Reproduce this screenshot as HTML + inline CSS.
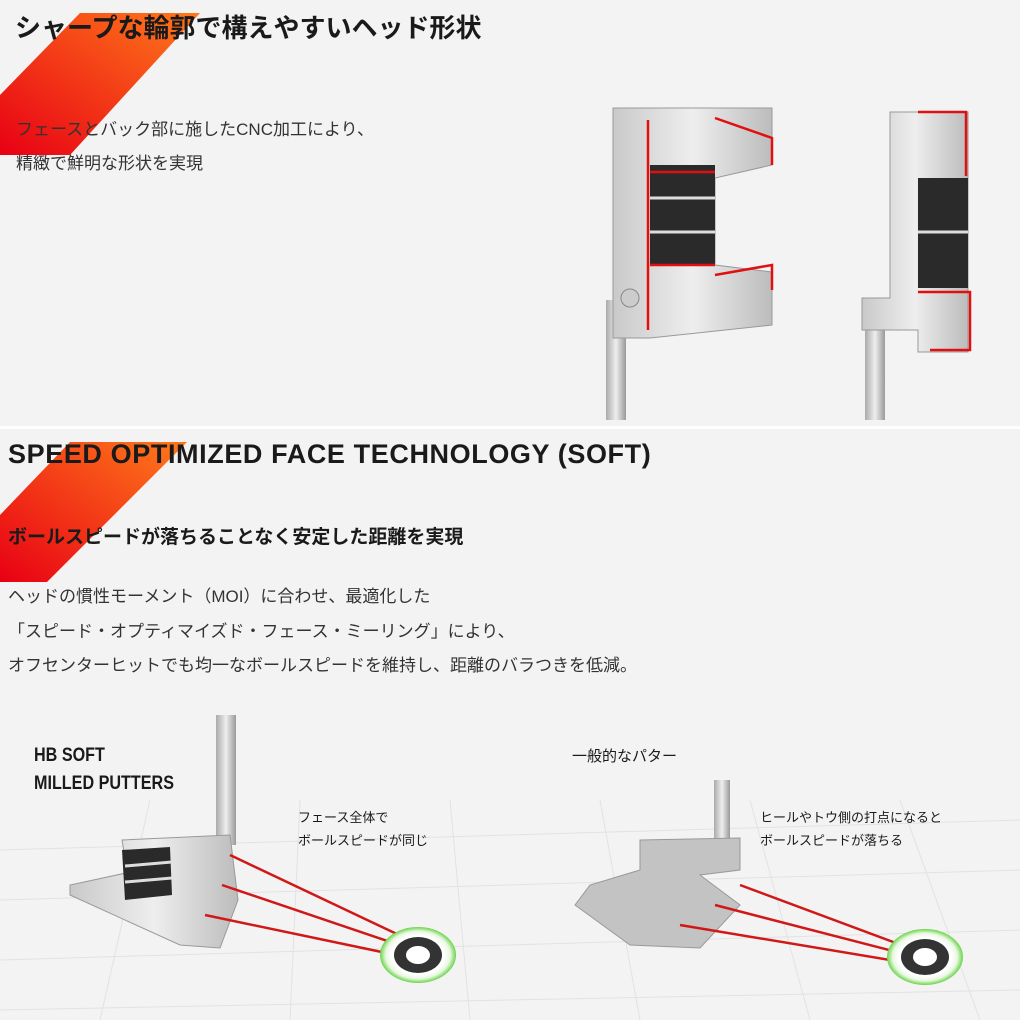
<!DOCTYPE html>
<html><head><meta charset="utf-8"><style>
html,body{margin:0;padding:0}
body{width:1020px;height:1020px;background:#f3f3f3;position:relative;overflow:hidden;font-family:"Liberation Sans","Noto Sans CJK JP",sans-serif;color:#1a1a1a}
.t{position:absolute;white-space:nowrap}
</style></head><body>
<svg width="1020" height="1020" style="position:absolute;left:0;top:0">
<defs>
<linearGradient id="g" x1="1" y1="0" x2="0" y2="1">
<stop offset="0" stop-color="#ff7a1a"/><stop offset="1" stop-color="#e80014"/></linearGradient>
<linearGradient id="m" x1="0" y1="0" x2="1" y2="0">
<stop offset="0" stop-color="#c9c9c9"/><stop offset=".5" stop-color="#eee"/><stop offset="1" stop-color="#bcbcbc"/></linearGradient>
<linearGradient id="sh" x1="0" y1="0" x2="1" y2="0">
<stop offset="0" stop-color="#aaa"/><stop offset=".5" stop-color="#eee"/><stop offset="1" stop-color="#999"/></linearGradient>
<radialGradient id="tg"><stop offset=".7" stop-color="#fff"/><stop offset=".85" stop-color="#e8f8e0"/><stop offset="1" stop-color="#6ad44a"/></radialGradient>
</defs>
<polygon points="80,13 200,13 70,155 0,155 0,95" fill="url(#g)"/>
<rect x="0" y="426" width="1020" height="3" fill="#fff"/>
<polygon points="70,442 187,442 47,582 0,582 0,515" fill="url(#g)"/>

<rect x="606" y="300" width="20" height="120" fill="url(#sh)"/>
<path d="M613,108 H772 V165 L715,178 V265 L772,272 V325 L650,338 H613 Z" fill="url(#m)" stroke="#999"/>
<rect x="650" y="165" width="65" height="100" fill="#2a2a2a"/>
<line x1="650" y1="198" x2="715" y2="198" stroke="#ddd" stroke-width="3"/>
<line x1="650" y1="232" x2="715" y2="232" stroke="#ddd" stroke-width="3"/>
<path d="M648,120 V330 M650,172 H715 M650,265 H715 M715,118 L772,138 V165 M715,275 L772,265 V290" stroke="#e01010" stroke-width="2.5" fill="none"/>
<circle cx="630" cy="298" r="9" fill="#ccc" stroke="#888"/>
<rect x="865" y="320" width="20" height="100" fill="url(#sh)"/>
<path d="M890,112 H968 V352 H918 V330 H862 V298 H890 Z" fill="url(#m)" stroke="#999"/>
<rect x="918" y="178" width="50" height="110" fill="#2a2a2a"/>
<line x1="918" y1="232" x2="968" y2="232" stroke="#ddd" stroke-width="3"/>
<path d="M918,112 H966 V176 M918,292 H970 V350 H930" stroke="#e01010" stroke-width="2.5" fill="none"/>

<g stroke="#e2e2e2" stroke-width="1">
<line x1="0" y1="850" x2="1020" y2="820"/><line x1="0" y1="900" x2="1020" y2="870"/>
<line x1="0" y1="960" x2="1020" y2="930"/><line x1="0" y1="1010" x2="1020" y2="990"/>
<line x1="150" y1="800" x2="100" y2="1020"/><line x1="300" y1="800" x2="290" y2="1020"/>
<line x1="450" y1="800" x2="470" y2="1020"/><line x1="600" y1="800" x2="640" y2="1020"/>
<line x1="750" y1="800" x2="810" y2="1020"/><line x1="900" y1="800" x2="980" y2="1020"/>
</g>
<rect x="216" y="715" width="20" height="130" fill="url(#sh)"/>
<path d="M122,840 L230,835 L238,900 L220,948 L180,945 L70,895 L70,885 L140,870 L125,858 Z" fill="url(#m)" stroke="#999"/>
<path d="M122,850 L170,847 L172,895 L125,900 Z" fill="#2a2a2a"/>
<line x1="125" y1="866" x2="172" y2="862" stroke="#ddd" stroke-width="3"/>
<line x1="125" y1="882" x2="172" y2="878" stroke="#ddd" stroke-width="3"/>
<g stroke="#d01818" stroke-width="2.5">
<line x1="230" y1="855" x2="420" y2="945"/><line x1="222" y1="885" x2="420" y2="952"/><line x1="205" y1="915" x2="420" y2="960"/>
</g>
<ellipse cx="418" cy="955" rx="38" ry="28" fill="url(#tg)"/>
<ellipse cx="418" cy="955" rx="24" ry="18" fill="#333"/>
<ellipse cx="418" cy="955" rx="12" ry="9" fill="#fff"/>
<rect x="714" y="780" width="16" height="60" fill="url(#sh)"/>
<path d="M640,840 L740,838 L740,870 L700,875 L740,905 L700,948 L630,945 L575,905 L590,885 L640,870 Z" fill="#c3c3c3" stroke="#999"/>
<g stroke="#d01818" stroke-width="2.5">
<line x1="740" y1="885" x2="920" y2="952"/><line x1="715" y1="905" x2="920" y2="958"/><line x1="680" y1="925" x2="920" y2="965"/>
</g>
<ellipse cx="925" cy="957" rx="38" ry="28" fill="url(#tg)"/>
<ellipse cx="925" cy="957" rx="24" ry="18" fill="#333"/>
<ellipse cx="925" cy="957" rx="12" ry="9" fill="#fff"/>
</svg>

<div class="t" style="left:15px;top:8px;font-size:26px;font-weight:bold">シャープな輪郭で構えやすいヘッド形状</div>
<div class="t" style="left:16px;top:115px;font-size:17px;color:#333">フェースとバック部に施したCNC加工により、</div>
<div class="t" style="left:16px;top:149px;font-size:17px;color:#333">精緻で鮮明な形状を実現</div>

<div class="t" style="left:8px;top:439px;font-size:27px;font-weight:bold;letter-spacing:0.6px">SPEED OPTIMIZED FACE TECHNOLOGY (SOFT)</div>
<div class="t" style="left:8px;top:522px;font-size:19px;font-weight:bold">ボールスピードが落ちることなく安定した距離を実現</div>
<div class="t" style="left:8px;top:582px;font-size:17px;color:#333">ヘッドの慣性モーメント（MOI）に合わせ、最適化した</div>
<div class="t" style="left:8px;top:617px;font-size:17px;color:#333">「スピード・オプティマイズド・フェース・ミーリング」により、</div>
<div class="t" style="left:8px;top:651px;font-size:17px;color:#333">オフセンターヒットでも均一なボールスピードを維持し、距離のバラつきを低減。</div>

<div class="t" style="left:34px;top:742px;font-size:19px;font-weight:bold;line-height:28px;transform:scaleX(.85);transform-origin:left">HB SOFT<br>MILLED PUTTERS</div>
<div class="t" style="left:298px;top:806px;font-size:13px;line-height:23px">フェース全体で<br>ボールスピードが同じ</div>
<div class="t" style="left:572px;top:745px;font-size:15px">一般的なパター</div>
<div class="t" style="left:760px;top:806px;font-size:13px;line-height:23px">ヒールやトウ側の打点になると<br>ボールスピードが落ちる</div>
</body></html>
